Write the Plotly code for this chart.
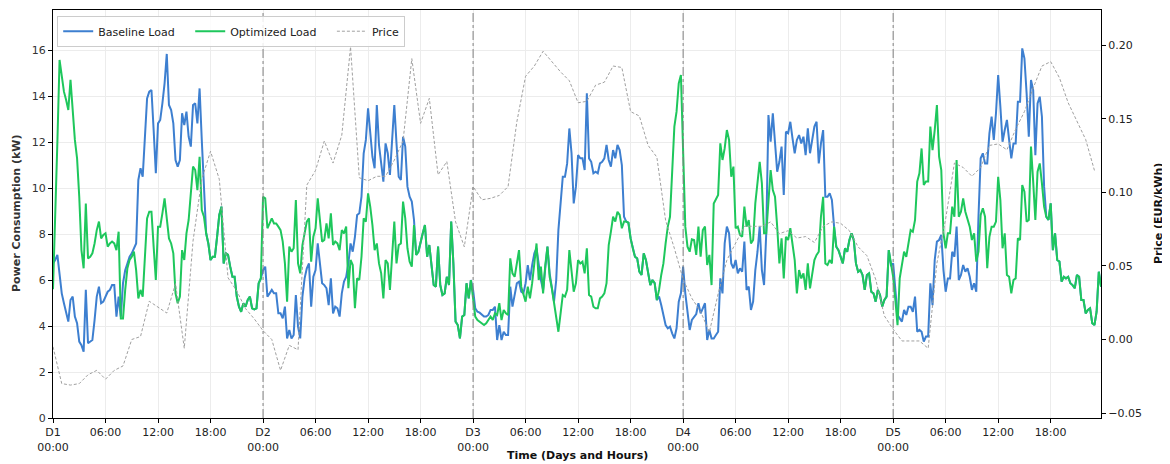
import plotly.graph_objects as go

# ---------------- data (15-min resolution loads, hourly price) ----------------
baseline_d1 = [6.72, 6.87, 7.09, 6.29, 5.42, 4.99, 4.55, 4.19, 5.13, 5.28, 4.41, 4.12, 3.32, 3.17, 2.88, 5.57,
               3.25, 3.32, 3.39, 4.26, 5.28, 5.71, 4.99, 5.06, 5.28, 5.49, 5.57, 5.78, 5.78, 4.41, 5.28, 4.41,
               5.86, 6.43, 6.72, 7.01, 7.16, 7.38, 7.59, 10.35, 10.86, 10.49, 12.52, 13.90, 14.19, 14.26, 12.52, 10.64,
               12.81, 12.96, 13.68, 14.55, 15.83, 13.61, 13.39, 12.81, 11.22, 10.93, 11.22, 13.25, 12.74, 13.32, 12.23, 11.80,
               13.61, 13.68, 12.81, 14.33, 12.09, 10.06, 8.03, 7.59, 6.87, 7.01, 7.01, 7.88, 8.83, 9.19, 6.72, 7.16,
               7.09, 6.58, 6.14, 6.14, 5.28, 4.84, 4.62, 4.99, 4.84, 5.13, 5.28, 4.77, 4.72, 4.77, 5.86, 6.07]
optimized_d1 = [5.60, 8.50, 12.00, 15.57, 14.84, 14.19, 13.83, 13.39, 14.70, 13.39, 12.09, 11.29, 9.62, 7.30, 6.51, 9.33,
                6.94, 7.01, 7.16, 7.59, 8.17, 8.54, 7.81, 7.96, 8.03, 7.45, 7.59, 7.67, 7.59, 7.30, 8.10, 4.33,
                4.33, 5.57, 6.51, 6.87, 7.01, 7.23, 6.43, 5.20, 5.57, 5.28, 7.01, 8.68, 8.97, 8.97, 7.45, 6.00,
                8.32, 8.32, 8.90, 9.55, 8.68, 7.81, 7.59, 7.16, 5.42, 4.99, 5.28, 7.30, 6.87, 8.03, 8.61, 9.91,
                10.93, 10.78, 9.91, 11.36, 9.04, 8.75, 8.03, 7.59, 6.87, 7.01, 7.01, 7.88, 8.83, 9.19, 6.72, 7.16,
                7.09, 6.58, 6.14, 6.14, 5.28, 4.84, 4.62, 4.99, 4.84, 5.13, 5.28, 4.77, 4.72, 4.77, 5.86, 6.07]

baseline_d2 = [6.43, 6.58, 5.28, 5.42, 5.57, 5.42, 5.42, 4.55, 4.55, 4.33, 4.84, 3.46, 3.83, 3.46, 3.61, 5.35,
               3.97, 3.46, 5.28, 6.07, 6.51, 6.72, 4.84, 6.14, 6.43, 7.59, 6.72, 5.86, 5.78, 5.64, 4.91, 6.07,
               4.55, 4.84, 4.77, 4.41, 5.42, 5.93, 6.14, 6.72, 7.59, 7.23, 7.88, 8.83, 8.90, 9.62, 11.51, 12.09,
               13.46, 12.38, 11.36, 10.86, 13.61, 11.87, 11.07, 10.28, 11.94, 11.51, 10.57, 12.23, 13.61, 11.94, 10.49, 10.35,
               12.23, 11.80, 10.06, 9.62, 9.41, 8.61, 7.09, 7.23, 7.67, 8.03, 8.39, 7.01, 7.52, 6.72, 5.78, 5.71,
               7.45, 5.78, 5.35, 5.42, 6.14, 5.78, 8.54, 6.72, 4.19, 4.04, 3.46, 4.41, 4.48, 5.86, 5.20, 6.00]
optimized_d2 = [9.62, 9.55, 8.25, 8.46, 8.68, 8.46, 8.46, 8.32, 8.17, 7.67, 6.72, 5.06, 7.45, 7.23, 7.38, 9.48,
                6.72, 6.29, 7.52, 8.03, 8.54, 8.68, 6.80, 7.88, 8.25, 9.55, 8.46, 7.67, 7.74, 8.46, 7.81, 8.90,
                7.52, 7.67, 7.59, 7.30, 8.17, 8.03, 8.32, 5.64, 6.87, 6.65, 4.77, 6.07, 6.00, 7.01, 8.68, 8.54,
                9.77, 9.19, 8.39, 7.30, 7.59, 6.72, 6.29, 5.20, 6.87, 6.72, 5.57, 6.87, 8.54, 6.72, 7.52, 7.59,
                9.41, 8.68, 7.38, 6.80, 6.58, 8.39, 7.09, 7.23, 7.67, 8.03, 8.39, 7.01, 7.52, 6.72, 5.78, 5.71,
                7.45, 5.78, 5.35, 5.42, 6.14, 5.78, 8.54, 6.72, 4.19, 4.04, 3.46, 4.41, 4.48, 5.86, 5.20, 6.00]

baseline_d3 = [5.57, 4.77, 4.62, 4.58, 4.48, 4.41, 4.41, 4.48, 4.70, 4.70, 4.84, 3.39, 4.04, 3.39, 3.75, 3.61,
               3.61, 5.71, 4.84, 5.28, 5.86, 5.93, 5.49, 5.42, 5.86, 6.65, 6.00, 6.65, 7.16, 7.38, 6.58, 6.00,
               5.57, 6.43, 7.45, 6.29, 5.57, 5.06, 6.00, 8.17, 9.33, 10.49, 10.49, 11.07, 12.59, 11.51, 9.33, 10.06,
               11.43, 11.29, 11.29, 10.78, 14.12, 11.29, 11.14, 10.64, 10.71, 10.64, 11.07, 11.14, 11.29, 11.87, 11.22, 10.93,
               11.65, 11.29, 11.87, 11.65, 11.00, 8.75, 8.54, 8.49, 7.81, 7.38, 7.01, 6.94, 6.36, 6.22, 7.16, 6.87,
               6.22, 5.78, 6.00, 5.86, 5.13, 5.28, 4.91, 4.48, 4.04, 3.90, 3.97, 3.68, 3.46, 3.90, 5.06, 5.42]
optimized_d3 = [5.28, 4.41, 4.26, 4.19, 4.12, 4.04, 4.12, 4.26, 4.41, 4.26, 4.55, 4.48, 4.99, 4.26, 4.70, 4.55,
                4.48, 6.94, 6.29, 6.14, 6.72, 7.30, 5.71, 5.42, 5.06, 5.71, 5.20, 5.86, 6.72, 7.59, 6.00, 6.58,
                5.42, 6.65, 7.45, 6.14, 5.64, 4.99, 4.55, 3.75, 4.55, 5.35, 5.28, 5.57, 7.30, 6.22, 5.49, 5.86,
                6.87, 6.72, 6.80, 6.29, 7.38, 5.35, 5.28, 4.84, 4.77, 4.77, 5.20, 5.28, 5.42, 5.86, 7.52, 8.10,
                8.75, 8.54, 8.97, 8.83, 8.25, 8.54, 8.54, 8.49, 7.81, 7.38, 7.01, 6.94, 6.36, 6.22, 7.16, 6.87,
                6.22, 5.78, 6.00, 5.86, 5.13, 5.57, 6.22, 6.72, 7.59, 8.32, 8.75, 10.64, 12.67, 13.32, 14.55, 14.91]

baseline_d4 = [6.58, 5.42, 4.55, 3.83, 4.26, 4.41, 4.52, 4.99, 4.55, 4.77, 4.99, 3.39, 3.83, 3.46, 3.46, 3.61,
               3.75, 6.07, 5.42, 7.59, 8.32, 8.03, 6.72, 6.51, 6.87, 6.29, 6.51, 6.36, 7.67, 5.57, 5.71, 4.70,
               5.06, 6.43, 7.23, 8.32, 6.43, 5.78, 8.03, 13.17, 12.01, 13.25, 11.72, 10.71, 11.14, 11.80, 9.70, 12.45,
               12.38, 12.88, 12.16, 11.51, 12.09, 12.30, 11.94, 12.23, 11.43, 12.59, 11.51, 12.09, 12.67, 12.88, 11.07, 11.94,
               12.52, 9.62, 9.62, 9.77, 9.48, 8.32, 7.45, 7.30, 7.01, 6.72, 7.38, 7.23, 7.74, 8.03, 7.74, 6.72,
               6.36, 6.43, 6.22, 5.57, 6.22, 6.29, 5.49, 5.42, 5.06, 5.57, 5.35, 4.84, 5.13, 5.28, 7.30, 6.65]
optimized_d4 = [11.07, 8.32, 7.45, 7.23, 7.77, 7.74, 7.09, 8.32, 7.01, 8.17, 8.32, 6.65, 7.09, 5.78, 9.33, 9.55,
                9.70, 11.94, 11.22, 11.72, 12.52, 12.09, 10.49, 10.93, 8.25, 8.32, 7.96, 7.88, 9.19, 8.32, 8.61, 7.59,
                7.74, 9.33, 10.20, 11.14, 10.20, 8.03, 8.03, 9.62, 10.78, 9.91, 9.62, 8.32, 6.72, 7.81, 6.07, 7.88,
                7.74, 8.25, 7.52, 6.87, 5.42, 6.43, 6.07, 6.29, 5.57, 6.72, 5.64, 6.29, 6.87, 7.09, 7.23, 8.75,
                9.62, 6.72, 6.65, 6.87, 6.72, 8.32, 7.45, 7.30, 7.01, 6.72, 7.38, 7.23, 7.74, 8.03, 7.74, 6.72,
                6.36, 6.43, 6.22, 5.57, 6.22, 6.29, 5.49, 5.42, 5.06, 5.57, 5.35, 4.84, 5.13, 5.28, 7.30, 6.65]

baseline_d5 = [6.72, 5.42, 4.48, 4.33, 4.19, 4.70, 4.48, 4.84, 4.84, 4.62, 5.28, 3.75, 3.83, 3.75, 3.32, 3.54,
               3.54, 5.86, 4.91, 6.87, 7.67, 7.74, 7.96, 6.43, 5.49, 6.07, 6.07, 7.23, 7.01, 8.32, 6.00, 6.22,
               6.65, 6.36, 6.51, 6.14, 5.57, 5.86, 5.49, 8.75, 11.29, 11.51, 11.07, 11.07, 12.38, 13.10, 12.09, 13.25,
               14.91, 13.54, 12.01, 12.52, 12.96, 12.09, 11.29, 11.94, 11.94, 13.75, 13.75, 16.07, 15.64, 14.12, 12.23, 14.70,
               14.26, 11.43, 13.68, 13.97, 13.10, 10.06, 8.75, 8.61, 9.33, 7.30, 8.03, 6.87, 6.80, 5.93, 6.14, 6.07,
               6.14, 5.86, 5.78, 5.64, 6.22, 6.14, 5.13, 5.13, 4.55, 4.70, 4.77, 4.12, 4.04, 4.62, 6.36, 5.71]
optimized_d5 = [6.14, 5.13, 4.04, 6.07, 6.72, 7.23, 7.01, 7.59, 8.17, 8.10, 8.61, 10.28, 10.64, 11.72, 10.13, 10.28,
                10.28, 12.67, 11.65, 12.52, 13.61, 11.36, 10.78, 8.03, 7.38, 8.03, 8.03, 9.19, 8.75, 11.22, 8.75, 8.97,
                9.55, 8.97, 8.68, 8.32, 7.74, 8.03, 6.80, 7.23, 8.83, 9.12, 8.75, 6.51, 7.88, 8.32, 8.32, 8.54,
                10.49, 9.48, 7.38, 8.03, 6.22, 6.14, 5.42, 6.00, 6.07, 7.81, 7.74, 10.13, 9.84, 8.54, 8.61, 11.80,
                10.28, 8.61, 10.71, 11.07, 10.20, 9.19, 8.75, 8.61, 9.33, 7.30, 8.03, 6.87, 6.80, 5.93, 6.14, 6.07,
                6.14, 5.86, 5.78, 5.64, 6.22, 6.14, 5.13, 5.13, 4.55, 4.70, 4.77, 4.12, 4.04, 4.62, 6.36, 5.71]

price_d1 = [-0.005, -0.030, -0.031, -0.030, -0.024, -0.021, -0.027, -0.021, -0.018, 0.000, 0.002, 0.026,
            0.022, 0.018, 0.038, -0.006, 0.067, 0.109, 0.128, 0.109, 0.042, 0.033, 0.021, 0.014]
price_d2 = [0.006, 0.000, -0.021, -0.004, -0.007, 0.105, 0.115, 0.135, 0.120, 0.139, 0.199, 0.110,
            0.108, 0.111, 0.111, 0.122, 0.135, 0.191, 0.147, 0.164, 0.112, 0.121, 0.080, 0.063]
price_d3 = [0.104, 0.095, 0.096, 0.098, 0.104, 0.148, 0.179, 0.186, 0.196, 0.189, 0.182, 0.176,
            0.161, 0.162, 0.173, 0.175, 0.186, 0.185, 0.155, 0.152, 0.132, 0.124, 0.081, 0.062]
price_d4 = [0.041, 0.028, 0.019, 0.005, 0.031, 0.054, 0.065, 0.077, 0.077, 0.077, 0.080, 0.072,
            0.074, 0.069, 0.070, 0.066, 0.077, 0.080, 0.079, 0.074, 0.063, 0.057, 0.041, 0.016]
price_d5 = [0.007, -0.001, -0.001, -0.001, -0.006, 0.052, 0.082, 0.120, 0.117, 0.111, 0.117, 0.132,
            0.133, 0.129, 0.143, 0.155, 0.171, 0.186, 0.189, 0.178, 0.161, 0.149, 0.136, 0.115]

day_labels = ["D1", "D2", "D3", "D4", "D5"]
hour_labels = ["00:00", "06:00", "12:00", "18:00"]

# ---------------- assemble ----------------
baseline = baseline_d1 + baseline_d2 + baseline_d3 + baseline_d4 + baseline_d5
optimized = optimized_d1 + optimized_d2 + optimized_d3 + optimized_d4 + optimized_d5
price = price_d1 + price_d2 + price_d3 + price_d4 + price_d5

t_load = [i * 0.25 for i in range(len(baseline))]
t_price = [float(i) for i in range(len(price))]

tickvals, ticktext = [], []
for d, dl in enumerate(day_labels):
    for k, hl in enumerate(hour_labels):
        tickvals.append(d * 24 + k * 6)
        ticktext.append(f"{dl}<br>{hl}" if k == 0 else hl)

BLUE = "#3d7fd0"
GREEN = "#1ec75c"
FONT = "DejaVu Sans, Liberation Sans, sans-serif"
NB = "\u00a0"

fig = go.Figure()
fig.add_trace(go.Scatter(x=t_load, y=baseline, name="Baseline Load" + NB * 3, mode="lines",
                         line=dict(color=BLUE, width=2)))
fig.add_trace(go.Scatter(x=t_load, y=optimized, name="Optimized Load" + NB * 3, mode="lines",
                         line=dict(color=GREEN, width=2)))
fig.add_trace(go.Scatter(x=t_price, y=price, name="Price", mode="lines", yaxis="y2",
                         line=dict(color="#a0a0a0", width=1, dash="3px,2px")))

shapes = []
for d in range(1, 5):
    shapes.append(dict(type="line", xref="x", yref="paper", x0=d * 24, x1=d * 24, y0=0, y1=1,
                       line=dict(color="#808080", width=1, dash="dashdot"), layer="above"))

annotations = [
    dict(text="<b>Power Consumption (kW)</b>", xref="paper", yref="paper", x=0, y=0.5,
         xshift=-37, textangle=-90, showarrow=False, xanchor="center", yanchor="middle",
         font=dict(size=11, color="#333333")),
    dict(text="<b>Price (EUR/kWh)</b>", xref="paper", yref="paper", x=1, y=0.5,
         xshift=57, textangle=-90, showarrow=False, xanchor="center", yanchor="middle",
         font=dict(size=11, color="#111111")),
    dict(text="<b>Time (Days and Hours)</b>", xref="paper", yref="paper", x=0.5, y=0,
         yshift=-37, showarrow=False, xanchor="center", yanchor="middle",
         font=dict(size=11, color="#111111")),
]

# the page body adds an 8px offset, so the figure is sized to fit the window
fig.update_layout(
    width=1162, height=456,
    margin=dict(l=45, r=69, t=2, b=46, autoexpand=False),
    paper_bgcolor="white", plot_bgcolor="white",
    font=dict(family=FONT, size=11, color="#333333"),
    showlegend=True,
    shapes=shapes, annotations=annotations,
    legend=dict(orientation="h", x=0.004, y=0.986, xanchor="left", yanchor="top",
                bgcolor="rgba(255,255,255,0.85)", bordercolor="#cccccc", borderwidth=1,
                font=dict(size=11, color="#222222"), tracegroupgap=0),
    xaxis=dict(range=[0, 119.75], tickmode="array", tickvals=tickvals, ticktext=ticktext,
               automargin=False,
               showgrid=True, gridcolor="#ececec", gridwidth=1,
               showline=True, linecolor="black", linewidth=1.2, mirror=True,
               ticks="outside", ticklen=4, tickcolor="black", zeroline=False,
               tickfont=dict(size=11, color="#222222")),
    yaxis=dict(range=[0, 17.74], tickmode="array", tickvals=list(range(0, 17, 2)),
               automargin=False,
               showgrid=True, gridcolor="#ececec", gridwidth=1,
               showline=True, linecolor="black", linewidth=1.2,
               ticks="outside", ticklen=4, tickcolor="black", zeroline=False,
               tickfont=dict(size=11, color="#333333")),
    yaxis2=dict(range=[-0.0534, 0.2241], overlaying="y", side="right", automargin=False,
                tickmode="array", tickvals=[-0.05, 0.0, 0.05, 0.10, 0.15, 0.20], tickformat=".2f",
                showgrid=False, showline=True, linecolor="black", linewidth=1.2,
                ticks="outside", ticklen=4, tickcolor="black", zeroline=False,
                tickfont=dict(size=11, color="#222222")),
)

fig.write_html("out.html")
